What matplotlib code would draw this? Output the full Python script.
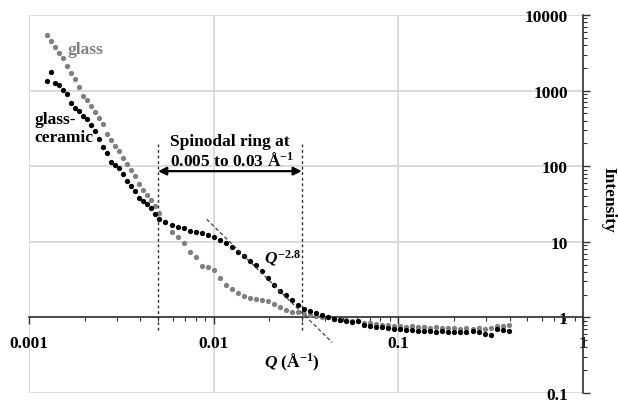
"""SAXS intensity of glass vs glass-ceramic, log-log with spinodal ring marked."""

import matplotlib

matplotlib.use("Agg", force=True)
import matplotlib.pyplot as plt
from matplotlib.ticker import NullFormatter

# scattering vector Q (1/Angstrom)
q = [0.001253, 0.001317, 0.001384, 0.001456, 0.001530, 0.001609, 0.001691, 0.001778,
     0.001870, 0.001966, 0.002066, 0.002172, 0.002284, 0.002401, 0.002524, 0.002654,
     0.002790, 0.002933, 0.003083, 0.003242, 0.003408, 0.003583, 0.003767, 0.003960,
     0.004163, 0.004377, 0.004601, 0.004837, 0.005086,
     0.005484, 0.005911, 0.006372, 0.006868, 0.007403, 0.007980, 0.008602, 0.009272,
     0.01000, 0.01078, 0.01162, 0.01252, 0.01350, 0.01455, 0.01569, 0.01691, 0.01823,
     0.01965, 0.02118, 0.02283, 0.02460, 0.02652, 0.02859, 0.03082, 0.03322, 0.03580,
     0.03859, 0.04160, 0.04484, 0.04834, 0.05210, 0.05623, 0.06062, 0.06534, 0.07043,
     0.07592, 0.08183, 0.08821, 0.09508, 0.1025, 0.1105, 0.1191, 0.1284, 0.1384, 0.1491,
     0.1608, 0.1733, 0.1868, 0.2013, 0.2170, 0.2339, 0.2522, 0.2718, 0.2930, 0.3158,
     0.3404, 0.3670, 0.3960]

glass = [5434, 4524, 3769, 3139, 2695, 2111, 1705, 1420, 1113, 846, 749, 623, 519, 432,
         360, 265, 221, 184, 158, 128, 106, 88.5, 73.7, 57.7, 48.1, 41.3, 35.5, 29.5, 23.9,
         18.1, 13.4, 11.5, 9.55, 7.26, 6.23, 4.74, 4.60, 4.19, 3.29, 2.65, 2.35, 2.08, 1.90,
         1.79, 1.73, 1.68, 1.63, 1.49, 1.36, 1.24, 1.165, 1.165, 1.096, 1.063, 1.031, 1.00,
         1.00, 0.941, 0.913, 0.913, 0.885, 0.885, 0.833, 0.833, 0.808, 0.783, 0.783, 0.760,
         0.760, 0.737, 0.760, 0.737, 0.737, 0.715, 0.737, 0.715, 0.715, 0.715, 0.694, 0.715,
         0.694, 0.715, 0.694, 0.715, 0.760, 0.760, 0.783]

glass_ceramic = [1336, 1758, 1257, 1183, 1015, 899, 683, 587, 535, 460, 419, 349, 291, 228,
                 179, 149, 113, 103, 94.1, 78.3, 63.3, 54.3, 46.7, 37.7, 34.4, 31.4, 27.8,
                 23.1, 19.9,
                 18.1, 16.5, 15.6, 15.1, 13.8, 13.4, 12.96, 12.2, 11.5, 10.47, 9.55, 8.46,
                 7.26, 6.43, 5.52, 4.88, 4.07, 3.29, 2.65, 2.21, 1.96, 1.68, 1.44, 1.28, 1.20,
                 1.13, 1.063, 1.00, 0.941, 0.913, 0.885, 0.859, 0.885, 0.783, 0.760, 0.737,
                 0.737, 0.715, 0.694, 0.694, 0.673, 0.673, 0.653, 0.653, 0.653, 0.633, 0.653,
                 0.633, 0.633, 0.633, 0.633, 0.653, 0.633, 0.595, 0.577, 0.694, 0.673, 0.653]

x_ticks = [0.001, 0.01, 0.1, 1]
x_labels = ["0.001", "0.01", "0.1", "1"]
y_ticks = [0.1, 1, 10, 100, 1000, 10000]
y_labels = ["0.1", "1", "10", "100", "1000", "10000"]

spinodal = [0.005, 0.03]
power_law_ends = [(0.00916, 19.9), (0.0438, 0.467)]

plt.rcParams["font.family"] = ["Liberation Serif", "DejaVu Serif"]
plt.rcParams["font.weight"] = "bold"
plt.rcParams["mathtext.fontset"] = "custom"
plt.rcParams["mathtext.rm"] = "Liberation Serif:bold"
plt.rcParams["mathtext.bf"] = "Liberation Serif:bold"
plt.rcParams["mathtext.it"] = "Liberation Serif:italic:bold"

fs = 12.5
fig = plt.figure(figsize=(6.18, 4.02), dpi=100)
ax = fig.add_axes([29 / 618, 8 / 402, 554 / 618, 378 / 402])
ax.set_xscale("log")
ax.set_yscale("log")
ax.set_xlim(0.001, 1)
ax.set_ylim(0.1, 10000)

ax.plot(q, glass, "o", color="#808080", ms=3.8, mew=0, zorder=3)
ax.plot(q, glass_ceramic, "o", color="black", ms=3.8, mew=0, zorder=4)

ax.grid(True, which="major", color="#d9d9d9", lw=1.3)
ax.set_axisbelow(True)

for side in ["top", "right"]:
    ax.spines[side].set_visible(False)
ax.spines["left"].set_position(("data", 1.0))
ax.spines["bottom"].set_position(("data", 1.0))
for side in ["left", "bottom"]:
    ax.spines[side].set_color("#303030")
    ax.spines[side].set_linewidth(1.2)

ax.set_xticks(x_ticks)
ax.set_xticklabels(x_labels, fontsize=fs, fontweight="bold")
ax.set_yticks(y_ticks)
ax.set_yticklabels(y_labels, fontsize=fs, fontweight="bold")
ax.xaxis.set_minor_formatter(NullFormatter())
ax.yaxis.set_minor_formatter(NullFormatter())
ax.tick_params(axis="x", which="major", direction="out", length=5, width=1, pad=8, color="#303030")
ax.tick_params(axis="x", which="minor", direction="out", length=3, width=0.8, color="#303030")
ax.tick_params(axis="y", which="major", direction="in", length=5, width=1, pad=11, color="#303030")
ax.tick_params(axis="y", which="minor", direction="in", length=3, width=0.8, color="#303030")

# spinodal ring markers
for qv in spinodal:
    ax.plot([qv, qv], [196, 0.65], color="#303030", lw=1.0, ls=(0, (2, 2)), zorder=2)
ax.annotate("", xy=(spinodal[0], 86), xytext=(spinodal[1], 86),
            arrowprops=dict(arrowstyle="<|-|>", color="black", lw=1.6,
                            mutation_scale=12, shrinkA=0, shrinkB=0))
ax.text(0.00577, 158, "Spinodal ring at\n0.005 to 0.03 Å$^{-1}$", fontsize=fs,
        ha="left", va="center", linespacing=1.1)

# power-law guide
(q0, i0), (q1, i1) = power_law_ends
ax.plot([q0, q1], [i0, i1], color="#404040", lw=0.9, ls=(0, (3, 2)), zorder=5)
ax.text(0.0187, 6.24, "$Q^{-2.8}$", fontsize=fs, ha="left", va="center")

ax.text(0.00161, 3545, "glass", color="#808080", fontsize=fs, ha="left", va="center")
ax.text(0.001065, 318, "glass-\nceramic", color="black", fontsize=fs, ha="left",
        va="center", linespacing=1.15)

ax.text(0.0187, 0.261, "$Q$ (Å$^{-1}$)", fontsize=fs, ha="left", va="center")
fig.text(608 / 618, 1 - 200 / 402, "Intensity", rotation=270, fontsize=fs,
         ha="center", va="center")

fig.savefig("out.png", dpi=100)
plt.close(fig)
